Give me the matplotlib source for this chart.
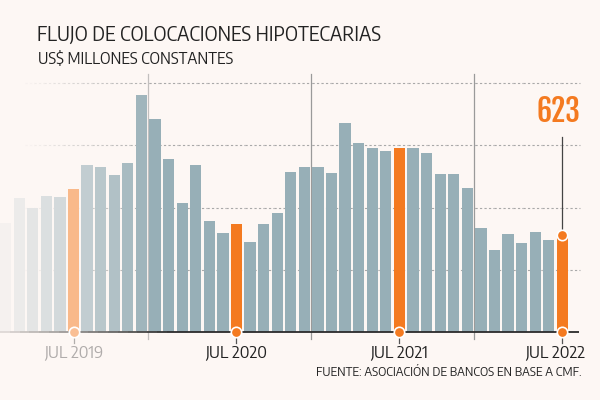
import matplotlib
matplotlib.use("Agg")
import matplotlib.pyplot as plt
import numpy as np
from matplotlib.colors import to_rgb
from matplotlib import font_manager

# ---- data ----
months = ["2019-02","2019-03","2019-04","2019-05","2019-06","2019-07","2019-08","2019-09","2019-10","2019-11","2019-12",
          "2020-01","2020-02","2020-03","2020-04","2020-05","2020-06","2020-07","2020-08","2020-09","2020-10","2020-11","2020-12",
          "2021-01","2021-02","2021-03","2021-04","2021-05","2021-06","2021-07","2021-08","2021-09","2021-10","2021-11","2021-12",
          "2022-01","2022-02","2022-03","2022-04","2022-05","2022-06","2022-07"]
values = [701, 862, 797, 874, 868, 919, 1074, 1061, 1010, 1087, 1524,
          1370, 1112, 829, 1074, 714, 637, 694, 579, 694, 765, 1029, 1061,
          1061, 1022, 1344, 1215, 1183, 1164, 1183, 1183, 1151, 1016, 1016, 926,
          669, 527, 630, 572, 643, 592, 623]
highlight_labels = ["JUL 2019", "JUL 2020", "JUL 2021", "JUL 2022"]
highlight_months = ["2019-07", "2020-07", "2021-07", "2022-07"]
year_breaks = ["2020-01", "2021-01", "2022-01"]
grid_values = [400, 800, 1200, 1600]
last_label = "623"

title = "FLUJO DE COLOCACIONES HIPOTECARIAS"
subtitle = "US$ MILLONES CONSTANTES"
source = "FUENTE: ASOCIACIÓN DE BANCOS EN BASE A CMF."

# ---- style ----
BG = "#FDF7F4"
STEEL = "#97AFB7"
ORANGE = "#F47A20"
names = {f.name for f in font_manager.fontManager.ttflist}

def pick(*cands):
    fam = [c for c in cands if c in names]
    return fam + ["DejaVu Sans"]

FONT = pick("Encode Sans Semi Condensed", "Encode Sans Condensed", "Open Sans")
BIG = pick("Fjalla One", "Oswald", "Encode Sans Condensed", "Roboto Condensed")

def blend(c, a, bg=BG):
    c = np.array(to_rgb(c)); b = np.array(to_rgb(bg))
    return tuple(b + (c - b) * a)

fig = plt.figure(figsize=(6, 4), dpi=100, facecolor=BG)
W, H = 600, 400
ax = fig.add_axes([0, 68 / H, 1, (332 - 80) / H])
ax.set_facecolor(BG)
ax.patch.set_alpha(0)

n = len(values)
x = np.arange(n)
pitch = 13.58
x0 = -5.6 / pitch
ax.set_xlim(x0, x0 + W / pitch)
ax.set_ylim(0, 252 * 6.43)
for s in ax.spines.values():
    s.set_visible(False)
ax.set_xticks([]); ax.set_yticks([])

def px2x(p):
    return x0 + p / pitch

# gridlines (faded at left)
for gv in grid_values:
    xs = np.linspace(px2x(15), px2x(580), 60)
    for i in range(len(xs) - 1):
        a = min(1.0, max(0.0, (xs[i] - px2x(15)) / (px2x(150) - px2x(15))))
        ax.plot([xs[i], xs[i + 1]], [gv, gv], color=blend("#A9A9A9", a), lw=0.8,
                ls=(0, (2, 2)), zorder=1, solid_capstyle="butt")

# year separators
for k, yb in enumerate(year_breaks):
    xi = months.index(yb) - 0.5
    ax.plot([xi, xi], [1660, -45], color=blend("#9A9A9A", 0.6 if k == 0 else 1.0), lw=0.9,
            zorder=1, clip_on=False)

# bars
hl_idx = [months.index(m) for m in highlight_months]
colors = []
for i in range(n):
    a = min(1.0, 0.08 + 0.92 * i / 11.0)
    if i in hl_idx:
        colors.append(blend(ORANGE, max(a, 0.5)))
    else:
        colors.append(blend(STEEL, a))
ax.bar(x, values, width=0.83, color=colors, zorder=2)

# baseline (faded at left)
xs = np.linspace(px2x(0), px2x(579), 60)
for i in range(len(xs) - 1):
    a = min(1.0, max(0.0, (xs[i] - px2x(0)) / (px2x(170))))
    ax.plot([xs[i], xs[i + 1]], [0, 0], color=blend("#2B2B2B", 0.15 + 0.85 * a), lw=1.3,
            zorder=3, clip_on=False, solid_capstyle="butt")

# highlight markers, ticks, labels
for k, (idx, lab) in enumerate(zip(hl_idx, highlight_labels)):
    a = 0.45 if k == 0 else 1.0
    ax.plot([idx, idx], [0, -70], color=blend("#555555", a), lw=0.9, zorder=3, clip_on=False)
    ax.plot(idx, 0, "o", ms=7.5, color=blend(ORANGE, a), mec="white", mew=1.2, zorder=5, clip_on=False)
    ha = "center"
    xx = idx
    if k == len(hl_idx) - 1:
        xx = px2x(585); ha = "right"
    ax.text(xx, -135, lab, ha=ha, va="center", fontsize=12, family=FONT,
            color=blend("#222222", 0.35 if k == 0 else 1.0), zorder=5)

# last value annotation
li = n - 1
ax.plot([li, li], [values[-1], 1255], color="#444444", lw=0.9, zorder=4, clip_on=False)
ax.plot(li, values[-1], "o", ms=7.5, color=ORANGE, mec="white", mew=1.2, zorder=5, clip_on=False)
fig.text(558 / W, 1 - 112 / H, last_label, ha="center", va="center", fontsize=21.5,
         fontweight="bold", family=BIG, color=ORANGE)

# titles
fig.text(37 / W, 1 - 35 / H, title, ha="left", va="center", fontsize=14.1, family=FONT, color="#222222")
fig.text(38 / W, 1 - 59 / H, subtitle, ha="left", va="center", fontsize=11.3, family=FONT, color="#222222")
fig.text(582 / W, 1 - 373 / H, source, ha="right", va="center", fontsize=8.8, family=FONT, color="#222222")

fig.savefig("out.png", dpi=100, facecolor=BG)
